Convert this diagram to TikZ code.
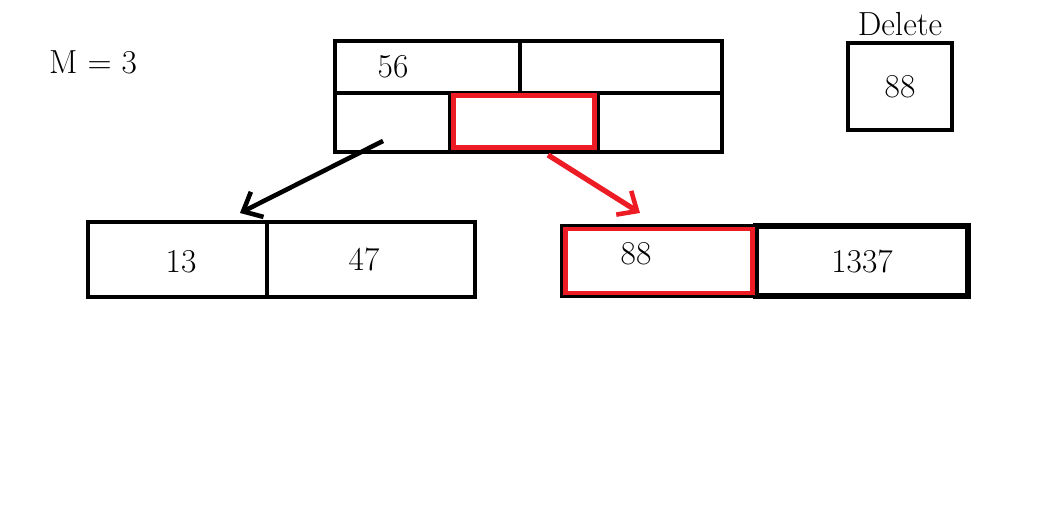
\documentclass[tikz,border=0pt]{standalone}
\usepackage{tikz}
\usetikzlibrary{arrows.meta}
\definecolor{mred}{RGB}{237,28,36}

\begin{document}
\begin{tikzpicture}[x=0.02cm,y=-0.02cm]
\tikzset{cell/.style={rectangle, draw, line width=2.7pt, inner sep=0pt, font=\fontsize{19}{22}\selectfont}}
\tikzset{hit/.style={rectangle, draw=mred, line width=2.8pt, inner sep=0pt}}
\tikzset{txt/.style={inner sep=0pt, font=\fontsize{19}{22}\selectfont}}
\tikzset{link/.style={line width=2.6pt, -{Straight Barb[length=9pt,width=16pt,line width=2.6pt]}}}
\useasboundingbox (0,0) rectangle (1044,523);
% root node
\node[cell, minimum width=3.7cm, minimum height=1.04cm] (k0) at (427.5,67) {};
\node[cell, minimum width=4.04cm, minimum height=1.04cm] (k1) at (621,67) {};
\node[cell, minimum width=2.3cm, minimum height=1.18cm] (c0) at (392.5,122.5) {};
\node[cell, minimum width=2.96cm, minimum height=1.18cm] (c1) at (524,122.5) {};
\node[cell, minimum width=2.48cm, minimum height=1.18cm] (c2) at (660,122.5) {};
\node[hit, minimum width=2.82cm, minimum height=1.04cm] (c1hit) at (524,121.5) {};
\node[txt] (v56) at (393,67) {56};
% leaves
\node[cell, minimum width=3.58cm, minimum height=1.5cm] (l0) at (177.5,259.5) {};
\node[cell, minimum width=4.16cm, minimum height=1.5cm] (l1) at (371,259.5) {};
\node[txt] (v13) at (181,262) {13};
\node[txt] (v47) at (364,259) {47};
\node[cell, minimum width=3.88cm, minimum height=1.4cm] (r0) at (659,261) {};
\node[cell, line width=3.2pt, minimum width=4.24cm, minimum height=1.4cm] (r1) at (862,261) {1337};
\node[hit, minimum width=3.74cm, minimum height=1.28cm] (r0hit) at (659,261) {};
\node[txt] (v88) at (636,254) {88};
% delete box
\node[txt] (del) at (900,24) {Delete};
\node[cell, minimum width=2.08cm, minimum height=1.74cm] (dbox) at (900,86.5) {88};
\node[txt] (m) at (93,62) {M = 3};
% arrows
\coordinate (a0) at (383,141);
\coordinate (a1) at (240,213);
\coordinate (b0) at (548,155);
\coordinate (b1) at (640,213);
\draw[link] (a0) -- (a1);
\draw[link, mred, line width=3pt] (b0) -- (b1);
\end{tikzpicture}
\end{document}
